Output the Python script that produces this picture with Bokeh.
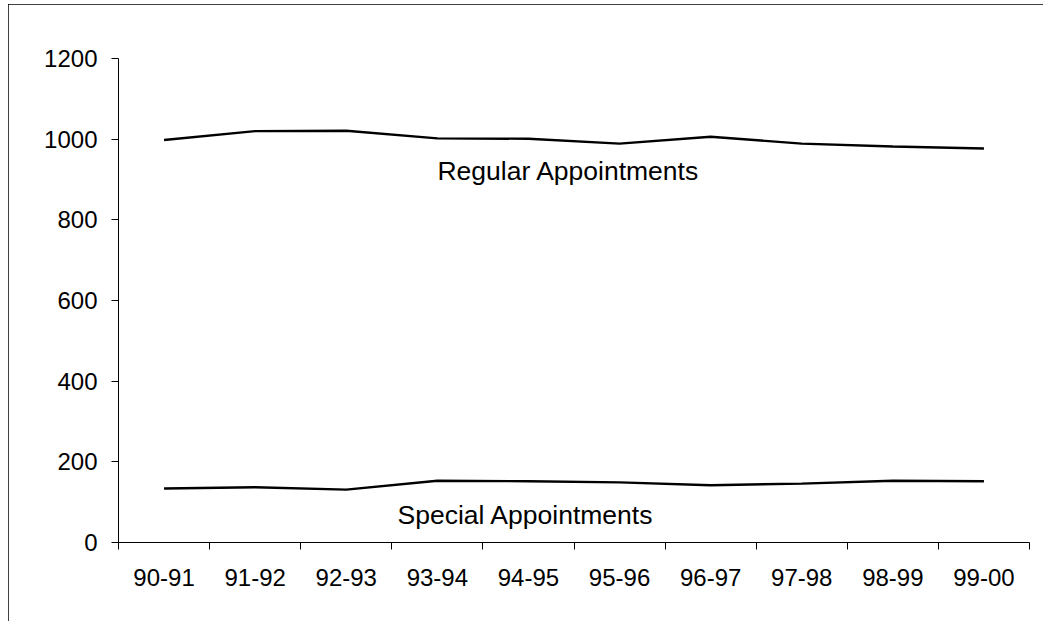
from bokeh.plotting import figure
from bokeh.models import Range1d, FixedTicker, ColumnDataSource, Label
from bokeh.embed import file_html
from bokeh.resources import INLINE

years = ["90-91", "91-92", "92-93", "93-94", "94-95", "95-96", "96-97", "97-98", "98-99", "99-00"]
regular = [998, 1020, 1021, 1002, 1001, 989, 1006, 989, 982, 977]
special = [134, 137, 131, 153, 152, 149, 142, 146, 153, 152]
y_ticks = [0, 200, 400, 600, 800, 1000, 1200]

FONT = "Liberation Sans"

xs = [i + 0.5 for i in range(len(years))]

p = figure(width=1035, height=617, output_backend="svg", toolbar_location=None,
           x_range=Range1d(0, len(years)), y_range=Range1d(0, 1200),
           min_border_left=110, min_border_right=14, min_border_top=54, min_border_bottom=79)
p.styles = {"outline": "1px solid black", "outline-offset": "-1px",
            "margin-left": "8px", "margin-top": "4px"}
p.outline_line_color = None
p.xgrid.visible = False
p.ygrid.visible = False
p.background_fill_color = "white"
p.border_fill_color = "white"

src = ColumnDataSource(dict(x=xs, regular=regular, special=special))
p.line("x", "regular", source=src, line_color="black", line_width=2.4)
p.line("x", "special", source=src, line_color="black", line_width=2.4)

# axes
xa = p.xaxis[0]
xa.ticker = FixedTicker(ticks=xs, minor_ticks=list(range(len(years) + 1)))
xa.major_label_overrides = {x: y for x, y in zip(xs, years)}
xa.major_tick_out = 0
xa.major_tick_in = 0
xa.minor_tick_out = 7
xa.minor_tick_in = 0
xa.minor_tick_line_color = "black"
xa.axis_line_color = "black"
xa.major_label_text_font = FONT
xa.major_label_text_font_size = "24px"
xa.major_label_text_color = "black"
xa.major_label_standoff = 19

ya = p.yaxis[0]
ya.ticker = FixedTicker(ticks=y_ticks)
ya.minor_tick_line_color = None
ya.major_tick_out = 7
ya.major_tick_in = 0
ya.major_tick_line_color = "black"
ya.axis_line_color = "black"
ya.major_label_text_font = FONT
ya.major_label_text_font_size = "24px"
ya.major_label_text_color = "black"
ya.major_label_standoff = 14

p.add_layout(Label(x=4.94, y=922, text="Regular Appointments", text_align="center",
                   text_baseline="middle", text_font=FONT, text_font_size="26.5px",
                   text_color="black"))
p.add_layout(Label(x=4.47, y=68, text="Special Appointments", text_align="center",
                   text_baseline="middle", text_font=FONT, text_font_size="26.5px",
                   text_color="black"))

open("out.html", "w").write(file_html(p, INLINE))
